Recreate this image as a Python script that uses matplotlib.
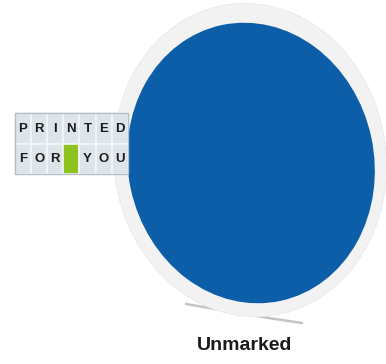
import matplotlib
matplotlib.use("Agg")
import matplotlib.pyplot as plt
from matplotlib.patches import Ellipse, Rectangle

# label grid text (one letter per cell, "" = green blank cell)
row_top = ["P", "R", "I", "N", "T", "E", "D"]
row_bottom = ["F", "O", "R", "", "Y", "O", "U"]
caption = "Unmarked"

disk_color = "#0b5ea7"
ring_color = "#f2f2f2"
cell_color = "#dde5eb"
green = "#8dc21f"

fig = plt.figure(figsize=(3.86, 3.64), dpi=100)
ax = fig.add_axes([0, 0, 1, 1])
ax.set_xlim(0, 386)
ax.set_ylim(364, 0)
ax.axis("off")

# soft shadow under the disk
shadow_x = [186, 215, 245, 275, 302]
shadow_y = [304, 309, 314, 319, 323]
ax.plot(shadow_x, shadow_y, color="#c4c4c4", lw=1.8, solid_capstyle="round", zorder=1)

# white ring + blue disk
ax.add_patch(Ellipse((250, 160), 272, 314, angle=-8, facecolor=ring_color,
                     edgecolor="#e9e9e9", lw=0.6, zorder=2))
ax.add_patch(Ellipse((251, 163), 246, 282, angle=-12, facecolor=disk_color,
                     edgecolor="none", zorder=3))

# "PRINTED FOR YOU" label box
x0, y0 = 15, 113
cw, ch = 16.1, 30.5
for r, row in enumerate([row_top, row_bottom]):
    for c, letter in enumerate(row):
        fc = green if letter == "" else cell_color
        ax.add_patch(Rectangle((x0 + c * cw, y0 + r * ch), cw, ch,
                               facecolor=fc, edgecolor="#f3f6f8", lw=1.2, zorder=4))
        if letter:
            ax.text(x0 + c * cw + cw / 2, y0 + r * ch + ch / 2 + 0.5, letter,
                    ha="center", va="center", fontsize=9.5, fontweight="bold",
                    family="Liberation Sans", color="#1c1c1c", zorder=5)
ax.add_patch(Rectangle((x0, y0), 7 * cw, 2 * ch, facecolor="none",
                       edgecolor="#b4bec6", lw=1.0, zorder=6))

ax.text(245, 345, caption, ha="center", va="center", fontsize=14,
        fontweight="bold", family="Liberation Sans", color="#1a1a1a")

fig.savefig("out.png", dpi=100)
